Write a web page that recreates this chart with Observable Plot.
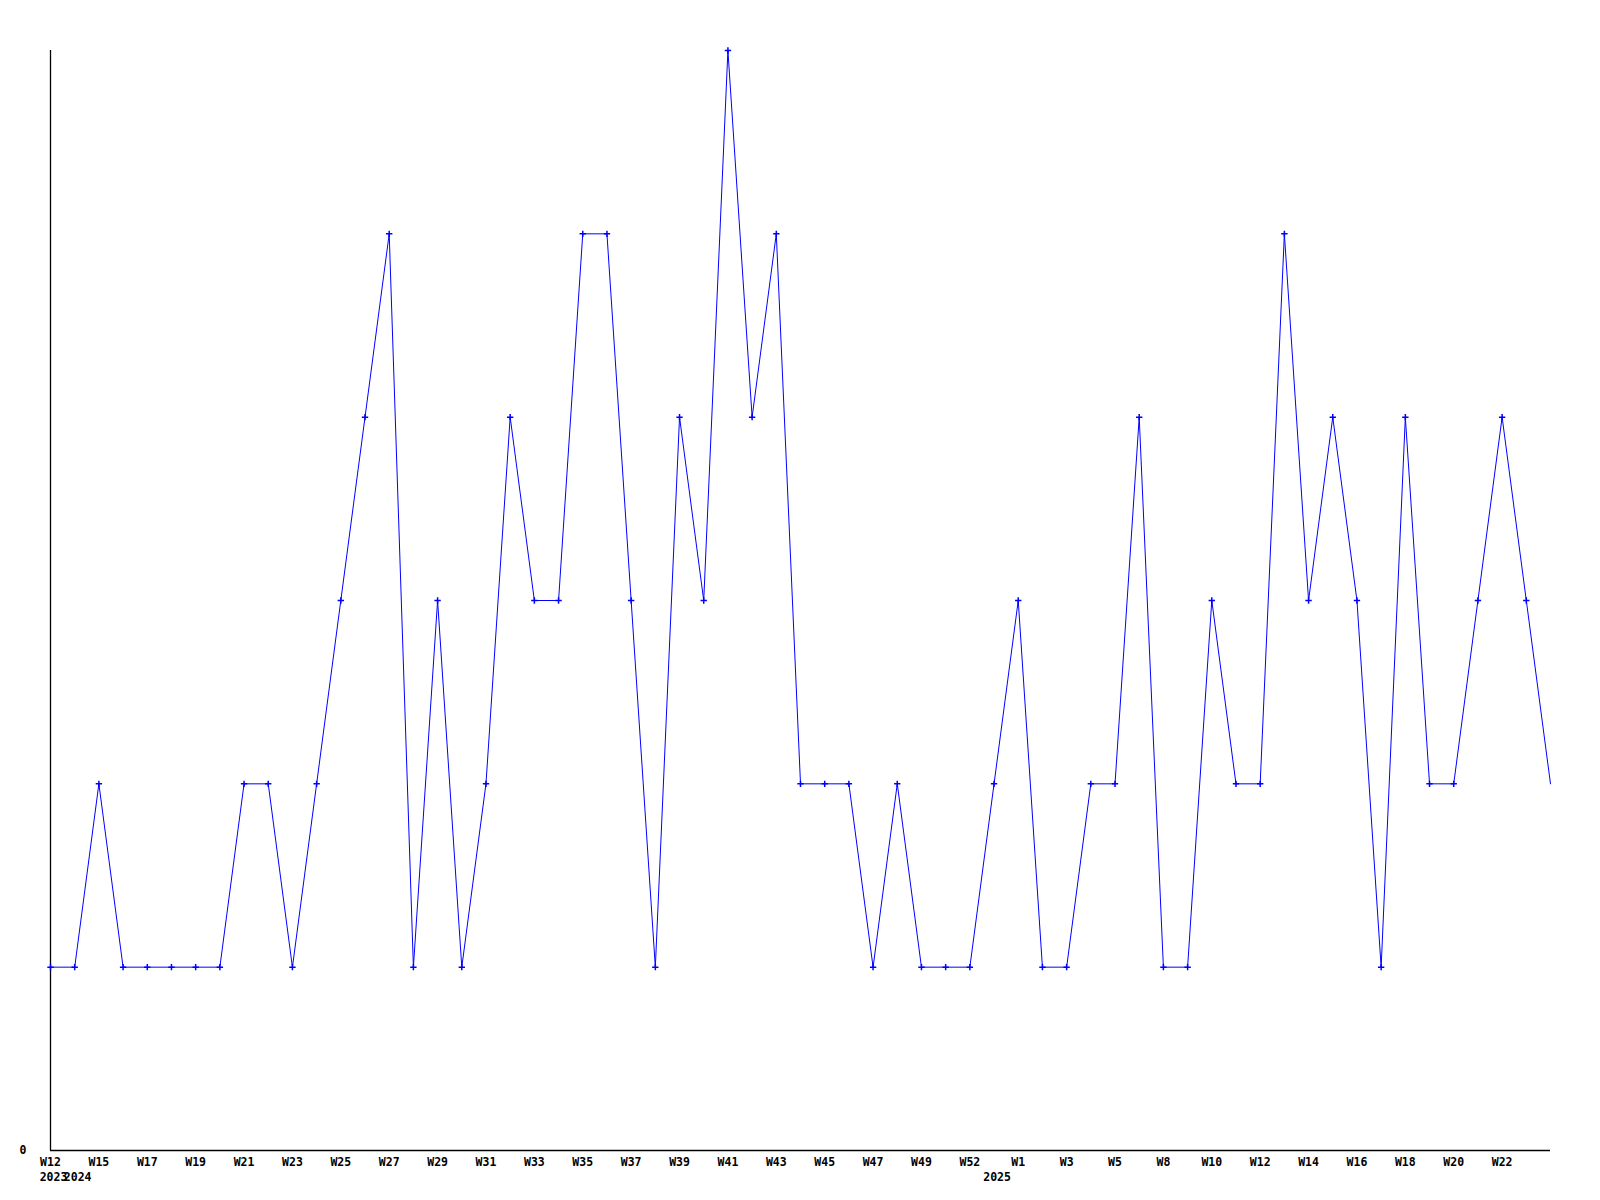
<!DOCTYPE html>
<html>
<head>
<meta charset="utf-8">
<script src="https://cdn.jsdelivr.net/npm/d3@7"></script>
<script src="https://cdn.jsdelivr.net/npm/@observablehq/plot@0.6"></script>
<style>
  html, body { margin: 0; padding: 0; background: #fff; }
  #chart svg { display: block; }
</style>
</head>
<body>
<div id="chart"></div>
<script>
// Week of each point (only even positions are labelled on the axis)
const weeks = [
  "W12","W14","W15","W16","W17","W18","W19","W20","W21","W22",
  "W23","W24","W25","W26","W27","W28","W29","W30","W31","W32",
  "W33","W34","W35","W36","W37","W38","W39","W40","W41","W42",
  "W43","W44","W45","W46","W47","W48","W49","W51","W52","W53",
  "W1","W2","W3","W4","W5","W7","W8","W9","W10","W11",
  "W12","W13","W14","W15","W16","W17","W18","W19","W20","W21",
  "W22","W23","W24"
];
// Year labels: position index -> year
const yearIndex = [0, 1, 39];
const yearText = ["2023", "2024", "2025"];
// Weekly counts
const counts = [
  1,1,2,1,1,1,1,1,2,2,
  1,2,3,4,5,1,3,1,2,4,
  3,3,5,5,3,1,4,3,6,4,
  5,2,2,2,1,2,1,1,1,2,
  3,1,1,2,2,4,1,1,3,2,
  2,5,3,4,3,1,4,2,2,3,
  4,3,2
];

const data = counts.map((v, i) => ({i, week: weeks[i], v}));
const labelIdx = data.map(d => d.i).filter(i => i % 2 === 0 && i < data.length - 1);

const chart = Plot.plot({
  width: 1600,
  height: 1200,
  marginTop: 50,
  marginBottom: 50,
  marginLeft: 50,
  marginRight: 50,
  style: {fontFamily: "'DejaVu Sans Mono', monospace", fontSize: "11.5px", fontWeight: "bold", background: "#fff", color: "#000"},
  x: {type: "linear", domain: [0, data.length - 1], label: null},
  y: {type: "linear", domain: [0, 6], label: null},
  marks: [
    Plot.axisX(labelIdx, {tickSize: 0, tickPadding: 7, tickFormat: i => weeks[i], fill: "#000", label: null}),
    Plot.axisX(yearIndex, {tickSize: 0, tickPadding: 22, tickFormat: i => yearText[yearIndex.indexOf(i)], fill: "#000", dx: 3, label: null}),
    Plot.axisY([0], {tickSize: 0, tickPadding: 24, tickFormat: d => String(d), fill: "#000", label: null}),
    Plot.ruleY([0], {stroke: "#000", strokeWidth: 1.3}),
    Plot.ruleX([0], {stroke: "#000", strokeWidth: 1.3}),
    Plot.line(data, {x: "i", y: "v", stroke: "#0000ff", strokeWidth: 1, curve: "linear"}),
    Plot.dot(data.slice(0, -1), {x: "i", y: "v", symbol: "plus", r: 2.2, stroke: "#0000ff", strokeWidth: 1.5})
  ]
});
document.getElementById("chart").appendChild(chart);
</script>
</body>
</html>
